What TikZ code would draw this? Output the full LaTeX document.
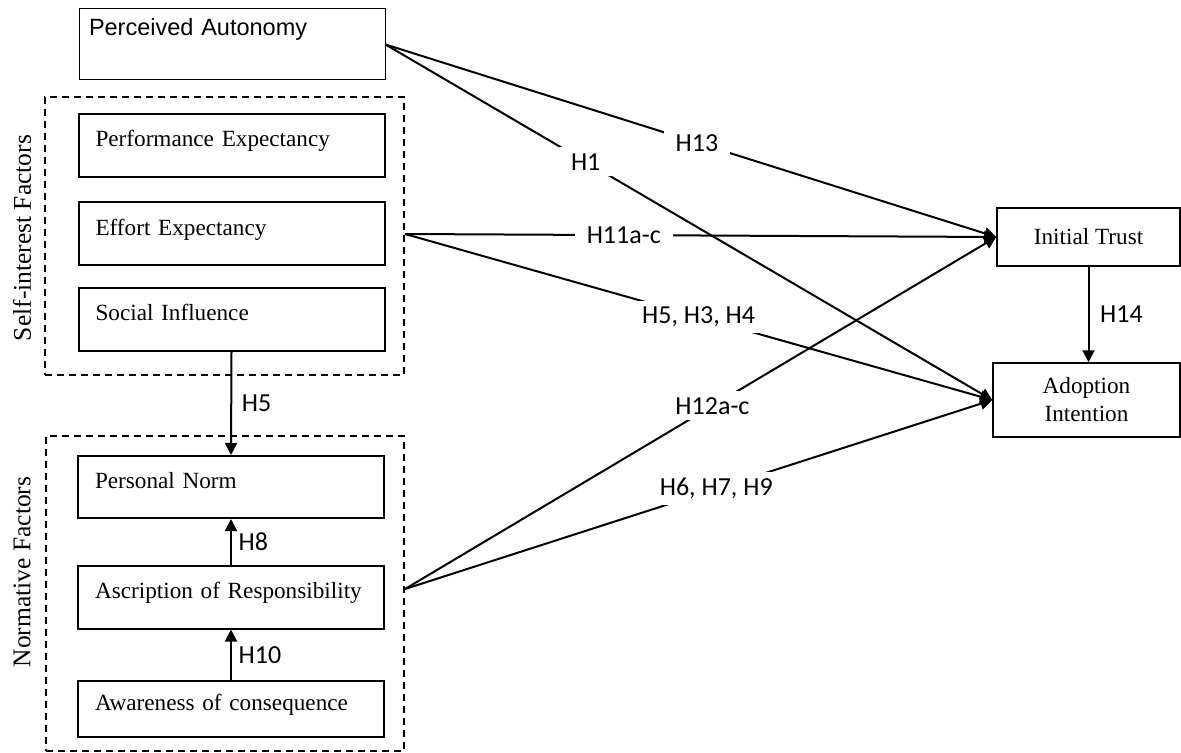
\documentclass[tikz,border=0pt]{standalone}
\usepackage{fontspec}
\setmainfont{Liberation Serif}
\setsansfont{Liberation Sans}
\newfontfamily\hypfont{Carlito}
\usetikzlibrary{calc}
\usetikzlibrary{positioning}
\usetikzlibrary{arrows.meta}
\newcommand{\factorfont}{\fontsize{11.6}{14}\selectfont\hyphenpenalty=10000\relax}
\tikzstyle{factor} = [draw, line width=1pt, minimum height=31.5pt, text width=136pt, inner xsep=8.5pt, inner ysep=0pt, align=left, text height=9.5pt, text depth=8pt, font=\factorfont]
\tikzstyle{autonomy} = [draw, line width=0.5pt, minimum height=35.5pt, text width=143pt, inner xsep=5pt, inner ysep=0pt, align=left, text height=9pt, text depth=17.5pt, font=\sffamily\fontsize{11.75}{14}\selectfont]
\tikzstyle{outcome} = [draw, line width=0.75pt, align=center, font=\fontsize{11.6}{14}\selectfont]
\tikzstyle{groupbox} = [draw, line width=1pt, dash pattern=on 3.5pt off 2.5pt]
\tikzstyle{hyplabel} = [font=\hypfont\fontsize{13}{15}\selectfont]
\tikzstyle{hyp} = [hyplabel, fill=white, inner xsep=6pt, inner ysep=3pt]
\tikzstyle{hyparrow} = [line width=1pt, -{Triangle[length=6pt,width=6pt]}]

\begin{document}
\begin{tikzpicture}[x=0.5pt, y=-0.5pt]
    \useasboundingbox (0,0) rectangle (1181,753);

    \node[autonomy] (pa_box) at (232,44.5) {Perceived Autonomy};

    % self-interest factors
    \node[groupbox, minimum width=179.5pt, minimum height=139pt] (si_group) at (224.5,236) {};
    \node[factor] (si_perf) at (231.5,145.5) {Performance Expectancy};
    \node[factor] (si_effort) at ($(si_perf)+(0,88.5)$) {Effort Expectancy};
    \node[factor] (si_social) at ($(si_effort)+(0,85.5)$) {Social Influence};
    \node[rotate=90, font=\fontsize{12.75}{15}\selectfont] (si_label) at (22,238) {Self-interest Factors};

    % normative factors
    \node[groupbox, minimum width=179pt, minimum height=157.5pt] (nf_group) at (225,593.5) {};
    \node[factor, minimum height=31pt] (nf_norm) at (231,487) {Personal Norm};
    \node[factor] (nf_ascr) at ($(nf_norm)+(0,110)$) {Ascription of Responsibility};
    \node[factor, minimum height=28pt] (nf_aware) at ($(nf_ascr)+(0,112)$) {Awareness of consequence};
    \node[rotate=90, font=\fontsize{12.75}{15}\selectfont] (nf_label) at (22,572) {Normative Factors};

    % outcomes
    \node[outcome, minimum width=91.5pt, minimum height=29pt] (out_trust) at (1088.5,237) {Initial Trust};
    \node[outcome, minimum width=93.5pt, minimum height=37pt] (out_adopt) at (1086.5,400) {Adoption\\Intention};

    \coordinate (ascr_out) at ($(nf_group.east |- nf_ascr)+(0,-8)$);

    \draw[hyparrow] (si_social.south) -- (nf_norm.north) node[midway, right, xshift=1.5pt, hyplabel] {H5};
    \draw[hyparrow] (nf_ascr.north) -- (nf_norm.south) node[midway, right, hyplabel] {H8};
    \draw[hyparrow] (nf_aware.north) -- (nf_ascr.south) node[midway, right, hyplabel] {H10};
    \draw[hyparrow] (out_trust.south) -- (out_trust.south |- out_adopt.north) node[midway, right, xshift=2pt, hyplabel] {H14};

    \draw[hyparrow] (pa_box.east) -- (out_trust.west) node[hyp, pos=0.51] {H13};
    \draw[hyparrow] (pa_box.east) -- (out_adopt.west) node[hyp, pos=0.33] {H1};
    \draw[hyparrow] (si_group.east |- si_effort) -- (out_trust.west) node[hyp, pos=0.37] {H11a-c};
    \draw[hyparrow] (si_group.east |- si_effort) -- (out_adopt.west) node[hyp, pos=0.5] {H5, H3, H4};
    \draw[hyparrow] (ascr_out) -- (out_trust.west) node[hyp, pos=0.52] {H12a-c};
    \draw[hyparrow] (ascr_out) -- (out_adopt.west) node[hyp, pos=0.53] {H6, H7, H9};
\end{tikzpicture}
\end{document}
